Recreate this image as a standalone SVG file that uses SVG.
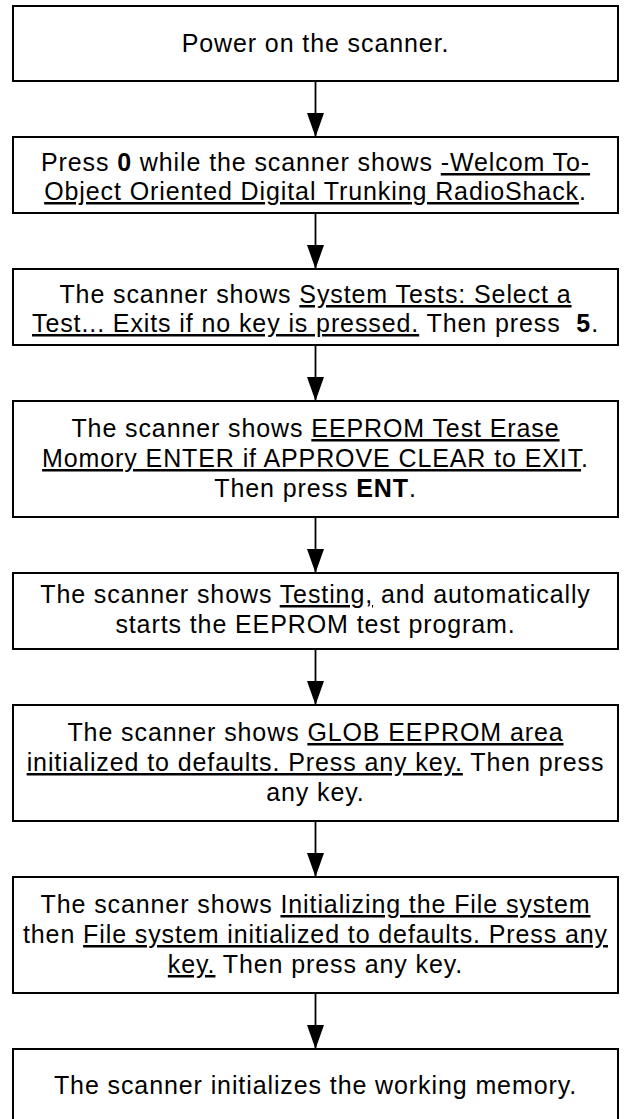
<svg xmlns="http://www.w3.org/2000/svg" width="625" height="1119" viewBox="0 0 625 1119">
<defs>
<style>
.box{fill:#fff;stroke:#000;stroke-width:2}
.t{font-family:"Liberation Sans",Arial,Helvetica,sans-serif;font-size:25px;letter-spacing:0.9px;fill:#000;text-anchor:middle}
.u{text-decoration:underline}
.b{font-weight:bold}
.c{stroke:#000;stroke-width:1.8;fill:none}
</style>
<marker id="ah" markerUnits="userSpaceOnUse" markerWidth="24" markerHeight="18" refX="24" refY="9" orient="auto">
<path d="M0,0.5 L24,9 L0,17.5 z" fill="#000"/>
</marker>
</defs>
<rect width="625" height="1119" fill="#fff"/>
<g id="connectors">
<line class="c" x1="315.5" y1="81" x2="315.5" y2="137" marker-end="url(#ah)"/>
<line class="c" x1="315.5" y1="213" x2="315.5" y2="269" marker-end="url(#ah)"/>
<line class="c" x1="315.5" y1="345" x2="315.5" y2="401" marker-end="url(#ah)"/>
<line class="c" x1="315.5" y1="517" x2="315.5" y2="573" marker-end="url(#ah)"/>
<line class="c" x1="315.5" y1="649" x2="315.5" y2="705" marker-end="url(#ah)"/>
<line class="c" x1="315.5" y1="821" x2="315.5" y2="877" marker-end="url(#ah)"/>
<line class="c" x1="315.5" y1="993" x2="315.5" y2="1049" marker-end="url(#ah)"/>
</g>
<g id="n1">
<rect class="box" x="13" y="6" width="605" height="75"/>
<text class="t" x="315.5" y="52">Power on the scanner.</text>
</g>
<g id="n2">
<rect class="box" x="13" y="137" width="605" height="76"/>
<text class="t" x="315.5" y="171">Press <tspan class="b">0</tspan> while the scanner shows <tspan class="u">-Welcom To-</tspan></text>
<text class="t" x="315.5" y="200"><tspan class="u">Object Oriented Digital Trunking RadioShack</tspan>.</text>
</g>
<g id="n3">
<rect class="box" x="13" y="269" width="605" height="76"/>
<text class="t" x="315.5" y="303">The scanner shows <tspan class="u">System Tests: Select a</tspan></text>
<text class="t" x="315.5" y="332"><tspan class="u">Test... Exits if no key is pressed.</tspan> Then press&#160; <tspan class="b">5</tspan>.</text>
</g>
<g id="n4">
<rect class="box" x="13" y="401" width="605" height="116"/>
<text class="t" x="315.5" y="437">The scanner shows <tspan class="u">EEPROM Test Erase</tspan></text>
<text class="t" x="315.5" y="467"><tspan class="u">Momory ENTER if APPROVE CLEAR to EXIT</tspan>.</text>
<text class="t" x="315.5" y="497">Then press <tspan class="b">ENT</tspan>.</text>
</g>
<g id="n5">
<rect class="box" x="13" y="573" width="605" height="76"/>
<text class="t" x="315.5" y="603">The scanner shows <tspan class="u">Testing,</tspan> and automatically</text>
<text class="t" x="315.5" y="633">starts the EEPROM test program.</text>
</g>
<g id="n6">
<rect class="box" x="13" y="705" width="605" height="116"/>
<text class="t" x="315.5" y="741">The scanner shows <tspan class="u">GLOB EEPROM area</tspan></text>
<text class="t" x="315.5" y="771"><tspan class="u">initialized to defaults. Press any key.</tspan> Then press</text>
<text class="t" x="315.5" y="801">any key.</text>
</g>
<g id="n7">
<rect class="box" x="13" y="877" width="605" height="116"/>
<text class="t" x="315.5" y="913">The scanner shows <tspan class="u">Initializing the File system</tspan></text>
<text class="t" x="315.5" y="943">then <tspan class="u">File system initialized to defaults. Press any</tspan></text>
<text class="t" x="315.5" y="973"><tspan class="u">key.</tspan> Then press any key.</text>
</g>
<g id="n8">
<rect class="box" x="13" y="1049" width="605" height="75"/>
<text class="t" x="315.5" y="1094">The scanner initializes the working memory.</text>
</g>
</svg>
